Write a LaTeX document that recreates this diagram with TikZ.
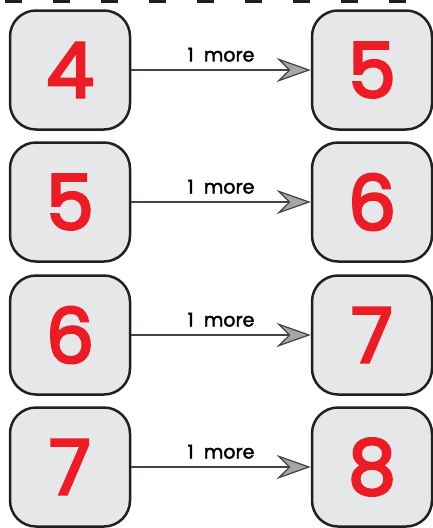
\documentclass[tikz,border=0pt]{standalone}
\usepackage{fontspec}
\setmainfont{Poppins}
\newfontfamily\lblfont[FakeBold=2]{Poppins}
\newfontfamily\numfont[FakeBold=3.5]{Poppins}
\usetikzlibrary{arrows.meta}
\definecolor{boxfill}{HTML}{E6E7E8}
\definecolor{boxline}{HTML}{231F20}
\definecolor{numred}{HTML}{ED1C24}
\begin{document}
\begin{tikzpicture}[x=1pt,y=-1pt,
  numbox/.style={draw=boxline, line width=2.5pt, fill=boxfill, rounded corners=26pt,
    minimum width=120pt, minimum height=119pt, inner sep=0pt,
    font=\numfont\fontsize{76}{76}\selectfont, text=numred},
  morearrow/.style={draw=boxline!85, line width=2pt,
    -{Stealth[length=34pt, width=24pt, inset=12pt, fill=gray!70, line width=1.2pt]}},
  lbl/.style={font=\lblfont\fontsize{19}{19}\selectfont, text=black}]
\useasboundingbox (0,0) rectangle (433,528);
\fill[white] (0,0) rectangle (433,528);
\draw[boxline, line width=4pt, dash pattern=on 17pt off 31pt, dash phase=-5pt] (0,0.5) -- (433,0.5);
\foreach \i/\a/\b/\y in {1/4/5/70, 2/5/6/202, 3/6/7/335, 4/7/8/467} {
  \node[numbox] (L\i) at (70,\y) {\raisebox{-2pt}{\a}};
  \node[numbox] (R\i) at (372,\y) {\raisebox{-2pt}{\b}};
  \draw[morearrow] (L\i.east) -- (R\i.west) node[lbl, midway, above=4pt] (T\i) {1\ \ more};
}
\end{tikzpicture}
\end{document}
